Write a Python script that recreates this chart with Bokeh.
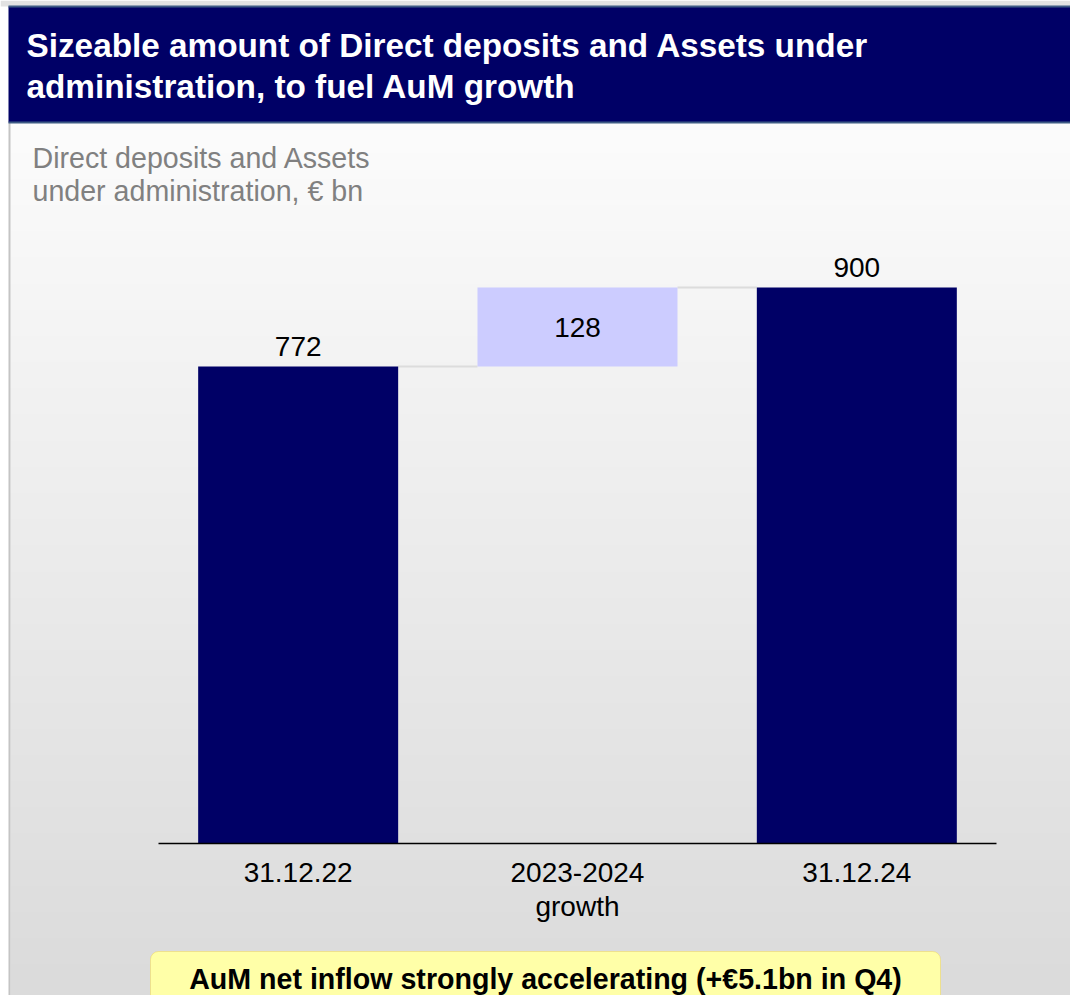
import numpy as np
from bokeh.plotting import figure
from bokeh.models import Range1d, ColumnDataSource, Label, BoxAnnotation
from bokeh.embed import file_html
from bokeh.resources import INLINE
from bokeh.core.properties import value

# ---------------- data ----------------
categories = ["31.12.22", "2023-2024\ngrowth", "31.12.24"]
values = [772, 128, 900]
kinds = ["total", "delta", "total"]

title_lines = ["Sizeable amount of Direct deposits and Assets under",
               "administration, to fuel AuM growth"]
subtitle_lines = ["Direct deposits and Assets", "under administration, € bn"]
callout_text = "AuM net inflow strongly accelerating (+€5.1bn in Q4)"

# ---------------- layout constants ----------------
W, H = 1070, 995
PXX = 279.33      # pixels per category slot
X0 = 158          # px of x = 0
PXY = 0.6178      # pixels per € bn
Y0 = 843          # px (from top) of y = 0
FONT = "Liberation Sans"
NAVY = "#000066"

def fx(px):
    return (px - X0) / PXX

def fy(py):
    return (Y0 - py) / PXY

p = figure(width=W, height=H, x_range=Range1d(fx(0), fx(W)), y_range=Range1d(fy(H), fy(0)),
           output_backend="svg", toolbar_location=None,
           x_axis_location=None, y_axis_location=None,
           min_border=0, outline_line_color=None)
p.background_fill_color = "#ffffff"
p.border_fill_color = "#ffffff"
p.xgrid.visible = False
p.ygrid.visible = False

# ---------------- background ----------------
n = 200
g = np.linspace(219, 252, n).astype(np.uint8)  # bottom -> top
img = np.zeros((n, 1), dtype=np.uint32)
view = img.view(dtype=np.uint8).reshape((n, 1, 4))
view[:, 0, 0] = g
view[:, 0, 1] = g
view[:, 0, 2] = g
view[:, 0, 3] = 255
p.image_rgba(image=[img], x=fx(10), y=fy(H), dw=fx(W) - fx(10), dh=fy(122) - fy(H))

# top strip and left border line
p.quad(left=[fx(0)], right=[fx(W)], top=[fy(0)], bottom=[fy(6)], fill_color="#e2e2e2", line_color=None)
p.segment(x0=[fx(9)], y0=[fy(122)], x1=[fx(9)], y1=[fy(H)], line_color="#c4c4c4", line_width=2)

# ---------------- title bar ----------------
p.quad(left=[fx(8)], right=[fx(W)], top=[fy(6)], bottom=[fy(122)],
       fill_color=NAVY, line_color=None)
p.segment(x0=[fx(8), fx(8)], y0=[fy(122), fy(6)], x1=[fx(W), fx(W)], y1=[fy(122), fy(6)],
          line_color="#3d5a84", line_width=2)

for t, mid in zip(title_lines, [44.5, 85.5]):
    p.add_layout(Label(x=fx(26), y=fy(mid), text=t, text_baseline="middle",
                       text_align="left", text_color="#ffffff", text_font=FONT,
                       text_font_size="33.3px", text_font_style="bold"))
for t, mid in zip(subtitle_lines, [157, 190]):
    p.add_layout(Label(x=fx(32), y=fy(mid), text=t, text_baseline="middle",
                       text_align="left", text_color="#808080", text_font=FONT,
                       text_font_size="28.6px"))

# ---------------- waterfall ----------------
xs, bottoms, tops, colors = [], [], [], []
running = 0
for i, (v, k) in enumerate(zip(values, kinds)):
    xs.append(i + 0.5)
    if k == "total":
        bottoms.append(0)
        tops.append(v)
        running = v
        colors.append(NAVY)
    else:
        bottoms.append(running)
        tops.append(running + v)
        running = running + v
        colors.append("#ccccff")

BW = 0.716
cx0 = [xs[i] + BW / 2 for i in range(len(xs) - 1)]
cx1 = [xs[i + 1] - BW / 2 for i in range(len(xs) - 1)]
cy = [tops[i] for i in range(len(xs) - 1)]
p.segment(x0=cx0, y0=cy, x1=cx1, y1=cy, line_color="#dcdcdc", line_width=2)

src = ColumnDataSource(dict(x=xs, bottom=bottoms, top=tops, color=colors,
                            label=[str(v) for v in values],
                            ly=[t if k == "total" else (b + t) / 2 for b, t, k in zip(bottoms, tops, kinds)],
                            loff=[-20 if k == "total" else 0 for k in kinds]))
p.vbar(x="x", bottom="bottom", top="top", width=BW, fill_color="color",
       line_color=None, source=src)

# baseline axis
p.segment(x0=[0], y0=[0], x1=[len(categories)], y1=[0], line_color="#000000", line_width=1.5)

# value labels
p.text(x="x", y="ly", text="label", y_offset="loff", source=src,
       text_align="center", text_baseline="middle", text_color="#000000",
       text_font=value(FONT), text_font_size="28px")

# category labels (one row per text line)
cl_x, cl_t, cl_off = [], [], []
for i, c in enumerate(categories):
    for j, line in enumerate(c.split("\n")):
        cl_x.append(i + 0.5)
        cl_t.append(line)
        cl_off.append(29 + 34 * j)
p.text(x=cl_x, y=[0] * len(cl_x), text=cl_t, y_offset=cl_off,
       text_align="center", text_baseline="middle", text_color="#000000",
       text_font=value(FONT), text_font_size="28px")

# ---------------- callout ----------------
p.add_layout(BoxAnnotation(left=fx(150), right=fx(940), top=fy(951), bottom=fy(1050),
                           fill_color="#ffffa8", fill_alpha=1.0,
                           line_color="#f0c31a", line_width=1, border_radius=8))
p.add_layout(Label(x=fx(545), y=fy(978), text=callout_text, text_baseline="middle",
                   text_align="center", text_color="#000000", text_font=FONT,
                   text_font_size="28.6px", text_font_style="bold"))

open("out.html", "w").write(file_html(p, INLINE))
